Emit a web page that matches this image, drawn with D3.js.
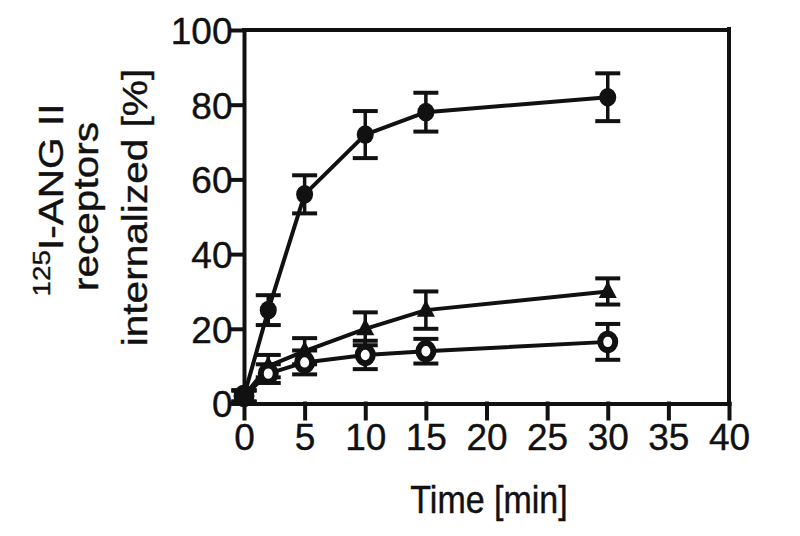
<!DOCTYPE html>
<html>
<head>
<meta charset="utf-8">
<script src="https://cdn.jsdelivr.net/npm/d3@7"></script>
<style>
  body { margin: 0; background: #fff; }
  svg { display: block; }
</style>
</head>
<body>
<svg id="chart"></svg>
<script>
// time points (min)
const times = [0, 2, 5, 10, 15, 30];

// filled circles
const filledMean = [2, 25, 56, 72, 78, 82];
const filledErr = [1.5, 4, 5.1, 6.3, 5.2, 6.4];

// filled triangles
const triMean = [2, 10, 14, 20, 25, 30];
const triErr = [1.5, 3, 3.5, 4.4, 5, 3.5];

// open circles
const openMean = [2, 8, 11, 13, 14, 16.5];
const openErr = [1.5, 2.5, 3.2, 3.8, 3.3, 4.8];

const xTicks = [0, 5, 10, 15, 20, 25, 30, 35, 40];
const yTicks = [0, 20, 40, 60, 80, 100];

const width = 800;
const height = 536;
const margin = { top: 30, right: 71, bottom: 132.5, left: 244 };
const ink = '#111';
const font = '"Liberation Sans", Arial, Helvetica, sans-serif';

const svg = d3.select('#chart')
  .attr('width', width)
  .attr('height', height)
  .attr('viewBox', [0, 0, width, height]);

const x = d3.scaleLinear()
  .domain([0, 40])
  .range([margin.left, width - margin.right]);

const y = d3.scaleLinear()
  .domain([0, 100])
  .range([height - margin.bottom, margin.top]);

const styleAxis = g => g
  .call(g => g.selectAll('.domain, .tick line')
    .attr('stroke', ink)
    .attr('stroke-width', 4)
    .attr('stroke-linecap', 'square'))
  .call(g => g.selectAll('.tick text')
    .attr('fill', ink)
    .attr('stroke', ink)
    .attr('stroke-width', 0.4)
    .style('font-family', font)
    .style('font-size', '37px'));

const xAxis = g => g
  .attr('transform', `translate(0,${y(0)})`)
  .call(d3.axisBottom(x)
    .tickValues(xTicks)
    .tickSize(15)
    .tickSizeOuter(0))
  .call(styleAxis)
  .call(g => g.selectAll('.tick text')
    .attr('y', 46.5)
    .attr('dy', null));

const yAxis = g => g
  .attr('transform', `translate(${x(0)},0)`)
  .call(d3.axisLeft(y)
    .tickValues(yTicks)
    .tickSize(13)
    .tickSizeOuter(0))
  .call(styleAxis)
  .call(g => g.selectAll('.tick text')
    .attr('x', -11.5)
    .attr('dy', '0.36em'));

svg.append('g').call(xAxis);
svg.append('g').call(yAxis);

// frame: top and right
svg.append('path')
  .attr('d', `M${x(0)},${y(100)}H${x(40)}V${y(0)}`)
  .attr('fill', 'none')
  .attr('stroke', ink)
  .attr('stroke-width', 4)
  .attr('stroke-linecap', 'square');
svg.append('line')
  .attr('x1', x(40)).attr('x2', x(40))
  .attr('y1', y(100) - 3).attr('y2', y(100))
  .attr('stroke', ink)
  .attr('stroke-width', 4);

const series = [
  { key: 'tri', mean: triMean, err: triErr },
  { key: 'open', mean: openMean, err: openErr },
  { key: 'filled', mean: filledMean, err: filledErr }
].map(s => ({ ...s, pts: times.map((t, i) => ({ t, v: s.mean[i], e: s.err[i] })) }));

const line = d3.line()
  .x(d => x(d.t))
  .y(d => y(d.v));

svg.append('g')
  .selectAll('path')
  .data(series)
  .join('path')
  .attr('d', s => line(s.pts))
  .attr('fill', 'none')
  .attr('stroke', ink)
  .attr('stroke-width', 4)
  .attr('stroke-linejoin', 'round');

const capW = 12.5;
series.forEach(s => {
  const g = svg.append('g')
    .attr('stroke', ink)
    .attr('stroke-width', 4);

  const eb = g.selectAll('g')
    .data(s.pts)
    .join('g');
  eb.append('line')
    .attr('x1', d => x(d.t)).attr('x2', d => x(d.t))
    .attr('y1', d => y(d.v + d.e)).attr('y2', d => y(d.v - d.e))
    .attr('stroke-width', 3.5);
  eb.append('line')
    .attr('x1', d => x(d.t) - capW).attr('x2', d => x(d.t) + capW)
    .attr('y1', d => y(d.v + d.e)).attr('y2', d => y(d.v + d.e));
  eb.append('line')
    .attr('x1', d => x(d.t) - capW).attr('x2', d => x(d.t) + capW)
    .attr('y1', d => y(d.v - d.e)).attr('y2', d => y(d.v - d.e));

  const m = svg.append('g')
    .selectAll('.mark')
    .data(s.pts)
    .join(s.key === 'tri' ? 'path' : 'ellipse');

  if (s.key === 'tri') {
    m.attr('d', d => {
      const cx = x(d.t), cy = y(d.v);
      return `M${cx},${cy - 10.5}L${cx + 9},${cy + 6.5}L${cx - 9},${cy + 6.5}Z`;
    })
      .attr('fill', ink);
  } else if (s.key === 'open') {
    m.attr('cx', d => x(d.t))
      .attr('cy', d => y(d.v))
      .attr('rx', 7.5)
      .attr('ry', 8.2)
      .attr('fill', '#fff')
      .attr('stroke', ink)
      .attr('stroke-width', 6);
  } else {
    m.attr('cx', d => x(d.t))
      .attr('cy', d => y(d.v))
      .attr('rx', 8.5)
      .attr('ry', 9.3)
      .attr('fill', ink);
  }
});

// axis titles
svg.append('text')
  .attr('transform', `translate(489,513) scale(1,1.15)`)
  .attr('text-anchor', 'middle')
  .attr('fill', ink)
  .attr('stroke', ink)
  .attr('stroke-width', 0.4)
  .style('font-family', font)
  .style('font-size', '34px')
  .text('Time [min]');

const yTitle = (bx, cy) => svg.append('text')
  .attr('transform', `translate(${bx},${cy}) rotate(-90) scale(1.16,1)`)
  .attr('text-anchor', 'middle')
  .attr('fill', ink)
  .attr('stroke', ink)
  .attr('stroke-width', 0.4)
  .style('font-family', font)
  .style('font-size', '35px');

const t1 = yTitle(63, 200);
t1.append('tspan')
  .attr('dy', -13)
  .style('font-size', '24px')
  .text('125');
t1.append('tspan')
  .attr('dy', 13)
  .text('I-ANG II');

yTitle(97.5, 206.5).text('receptors');
yTitle(146.5, 207.5).text('internalized [%]');
</script>
</body>
</html>
